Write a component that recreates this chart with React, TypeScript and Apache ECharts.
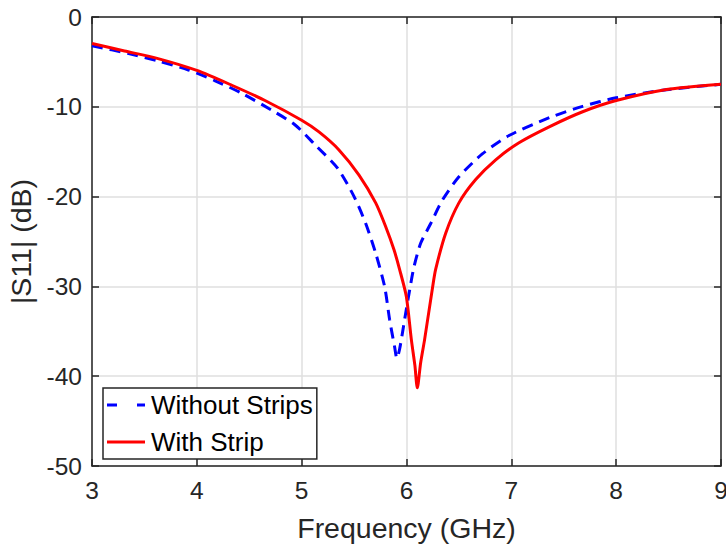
import React, { useEffect, useRef } from "react";
import * as echarts from "echarts";

const freqWithout = [3, 3.35, 3.63, 3.92, 4.175, 4.43, 4.717, 4.935, 5.134, 5.34, 5.5, 5.611, 5.706, 5.791, 5.839, 5.886, 5.908, 5.934, 5.982, 6.03, 6.072, 6.135, 6.231, 6.342, 6.5, 6.723, 6.978, 7.366, 7.68, 8, 8.48, 9];
const s11Without = [-3.2, -4.07, -4.89, -5.9, -7.1, -8.5, -10.4, -12.0, -14.3, -16.8, -20.0, -23.0, -26.3, -30, -33.7, -36.7, -38, -37, -33.7, -30.4, -27.8, -25.2, -23.0, -20.4, -17.8, -15.25, -13.2, -11.2, -9.95, -9.0, -8.1, -7.5];

const freqWith = [3, 3.31, 3.63, 4, 4.334, 4.65, 5, 5.165, 5.356, 5.547, 5.706, 5.8, 5.88, 5.934, 5.998, 6.046, 6.08, 6.103, 6.135, 6.173, 6.25, 6.278, 6.373, 6.5, 6.66, 6.851, 7.073, 7.366, 7.68, 8, 8.48, 9];
const s11With = [-2.95, -3.78, -4.63, -5.95, -7.6, -9.3, -11.5, -12.8, -14.8, -17.6, -20.7, -23.3, -25.9, -28.1, -31.1, -35.9, -38.8, -41.3, -38.5, -35.9, -30, -28.1, -24.1, -20.7, -18.1, -15.9, -14.0, -12.2, -10.55, -9.3, -8.07, -7.48];

const seriesNames = ["Without Strips", "With Strip"];
const xTicks = { min: 3, max: 9, interval: 1 };
const yTicks = { min: -50, max: 0, interval: 10 };

const FONT = "Liberation Sans, Arial, Helvetica, sans-serif";
const AXIS = "#262626";
const GRID = "#dfdfdf";

export default function App() {
  const ref = useRef<HTMLDivElement>(null);
  useEffect(() => {
    if (!ref.current) return;
    const chart = echarts.init(ref.current, undefined, { renderer: "svg" });
    const baseX = {
      type: "value" as const,
      min: xTicks.min,
      max: xTicks.max,
      interval: xTicks.interval,
      axisLine: { show: true, onZero: false, lineStyle: { color: AXIS, width: 1.5 } },
      axisTick: { show: true, inside: true, length: 7, lineStyle: { color: AXIS, width: 1.5 } },
    };
    const baseY = {
      type: "value" as const,
      min: yTicks.min,
      max: yTicks.max,
      interval: yTicks.interval,
      axisLine: { show: true, onZero: false, lineStyle: { color: AXIS, width: 1.5 } },
      axisTick: { show: true, inside: true, length: 7, lineStyle: { color: AXIS, width: 1.5 } },
    };
    chart.setOption({
      animation: false,
      backgroundColor: "#ffffff",
      textStyle: { fontFamily: FONT },
      grid: { left: 92, right: 5, top: 17, bottom: 83, containLabel: false, outerBoundsMode: "none" },
      xAxis: [
        {
          ...baseX,
          position: "bottom",
          name: "Frequency (GHz)",
          nameLocation: "middle",
          nameGap: 47,
          nameTextStyle: { fontSize: 28.5, color: AXIS, fontFamily: FONT },
          axisLabel: { fontSize: 24.5, color: AXIS, margin: 12, fontFamily: FONT },
          splitLine: { show: true, lineStyle: { color: GRID, width: 1.5 } },
        },
        {
          ...baseX,
          position: "top",
          axisLabel: { show: false },
          splitLine: { show: false },
        },
      ],
      yAxis: [
        {
          ...baseY,
          position: "left",
          name: "|S11| (dB)",
          nameLocation: "middle",
          nameGap: 51,
          nameTextStyle: { fontSize: 28.5, color: AXIS, fontFamily: FONT },
          axisLabel: { fontSize: 24.5, color: AXIS, margin: 10, fontFamily: FONT },
          splitLine: { show: true, lineStyle: { color: GRID, width: 1.5 } },
        },
        {
          ...baseY,
          position: "right",
          axisLabel: { show: false },
          splitLine: { show: false },
        },
      ],
      legend: {
        orient: "vertical",
        left: 103,
        top: 388,
        data: [
          { name: seriesNames[0], icon: "path://M0,0h10v3h-10z M30,0h8v3h-8z" },
          { name: seriesNames[1], icon: "path://M0,0h38v3h-38z" },
        ],
        backgroundColor: "#ffffff",
        borderColor: AXIS,
        borderWidth: 1.5,
        borderRadius: 0,
        padding: [2, 4, 2, 4],
        itemWidth: 40,
        itemHeight: 3,
        itemGap: 7,
        textStyle: { fontSize: 26, color: "#000000", lineHeight: 30, fontFamily: FONT },
      },
      series: [
        {
          name: seriesNames[0],
          type: "line",
          symbol: "none",
          smooth: 0.25,
          data: freqWithout.map((f, i) => [f, s11Without[i]]),
          lineStyle: { color: "#0000ff", width: 3, type: [11, 7] },
          itemStyle: { color: "#0000ff" },
          z: 3,
        },
        {
          name: seriesNames[1],
          type: "line",
          symbol: "none",
          smooth: 0.25,
          data: freqWith.map((f, i) => [f, s11With[i]]),
          lineStyle: { color: "#ff0000", width: 3 },
          itemStyle: { color: "#ff0000" },
          z: 4,
        },
      ],
    });
    return () => chart.dispose();
  }, []);
  return (
    <div
      ref={ref}
      style={{ position: "fixed", left: 0, top: 0, width: 726, height: 549 }}
    />
  );
}
